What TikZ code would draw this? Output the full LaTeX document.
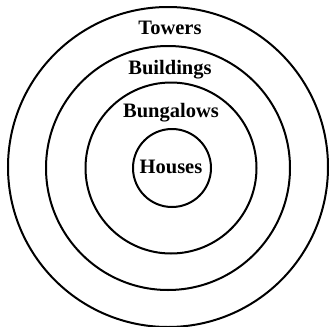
\documentclass[tikz,border=0pt]{standalone}
\usepackage{fontspec}
\setmainfont{Liberation Serif}
\begin{document}
\begin{tikzpicture}[x=1pt,y=-1pt,
  ring/.style={draw=black,line width=2pt,circle,inner sep=0pt},
  lbl/.style={font=\fontsize{20.5}{23}\selectfont\bfseries,text=black}]
\useasboundingbox (0,0) rectangle (330,327);
\node[ring,minimum size=320pt] (towers) at (168,167) {};
\node[ring,minimum size=244pt] (buildings) at (168,168) {};
\node[ring,minimum size=171pt] (bungalows) at (171,168) {};
\node[ring,minimum size=78pt] (houses) at (172,168) {};
\node[lbl] (t) at (170,28) {Towers};
\node[lbl] (b) at (170,70) {Buildings};
\node[lbl] (g) at (171,113) {Bungalows};
\node[lbl] (h) at (171,167) {Houses};
\end{tikzpicture}
\end{document}
